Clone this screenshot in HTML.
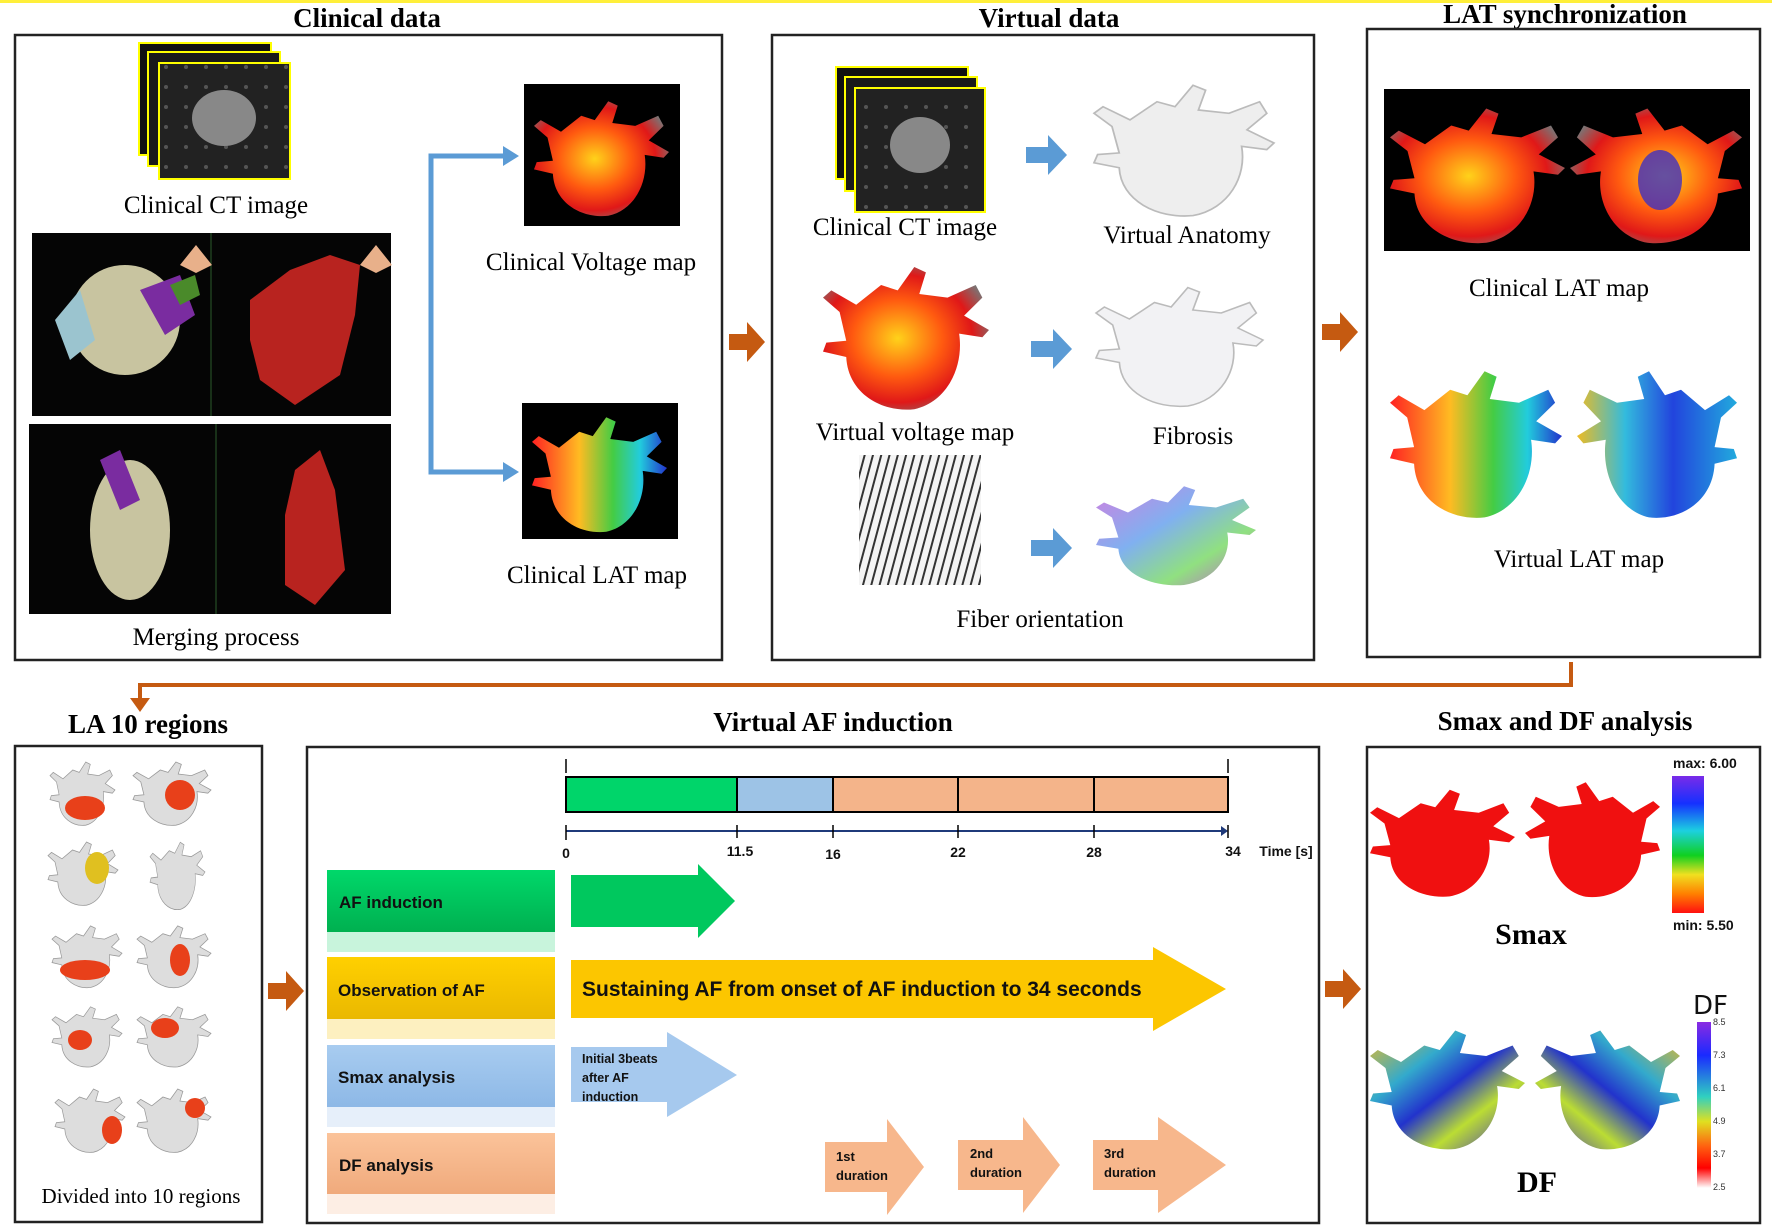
<!DOCTYPE html>
<html><head><meta charset="utf-8"><style>
html,body{margin:0;padding:0;background:#fff}
svg{display:block}
.t{font-family:"Liberation Serif",serif;font-weight:bold;font-size:27px;text-anchor:middle;fill:#000}
.l{font-family:"Liberation Serif",serif;font-size:25px;text-anchor:middle;fill:#000}
.s{font-family:"Liberation Sans",sans-serif;font-weight:bold;fill:#111}
</style></head><body>
<svg width="1772" height="1231" viewBox="0 0 1772 1231" xmlns="http://www.w3.org/2000/svg">
<defs>
<path id="h" d="M10,30 L0,22 L5,18 L20,26 L35,15 L45,18 L55,5 L62,8 L58,20 L75,22 L92,15 L96,22 L85,32 L100,40 L96,44 L82,42 C85,60 75,80 55,84 C35,86 15,75 14,55 L0,52 L2,47 L14,46 Z"/>
<radialGradient id="volt" cx="45%" cy="50%" r="60%"><stop offset="0" stop-color="#ffd21a"/><stop offset=".45" stop-color="#ff5a10"/><stop offset=".75" stop-color="#e01818"/><stop offset="1" stop-color="#777"/></radialGradient>
<linearGradient id="lat" x1="0" y1="0" x2="1" y2="0"><stop offset="0" stop-color="#f22"/><stop offset=".35" stop-color="#fb2"/><stop offset=".6" stop-color="#4c4"/><stop offset=".8" stop-color="#2cd"/><stop offset="1" stop-color="#23c"/></linearGradient>
<linearGradient id="lat2" x1="0" y1="0" x2="1" y2="0"><stop offset="0" stop-color="#2ad"/><stop offset=".4" stop-color="#24d"/><stop offset=".7" stop-color="#3bd"/><stop offset="1" stop-color="#eb2"/></linearGradient>
<linearGradient id="df" x1="0" y1="0" x2="1" y2="1"><stop offset="0" stop-color="#eb2"/><stop offset=".3" stop-color="#3ac"/><stop offset=".5" stop-color="#23c"/><stop offset=".7" stop-color="#bd3"/><stop offset="1" stop-color="#32c"/></linearGradient>
<linearGradient id="rainbow" x1="0" y1="0" x2="0" y2="1"><stop offset="0" stop-color="#7a2be8"/><stop offset=".2" stop-color="#1530ff"/><stop offset=".4" stop-color="#1cd0e0"/><stop offset=".58" stop-color="#10d020"/><stop offset=".72" stop-color="#f0e020"/><stop offset=".86" stop-color="#ff8000"/><stop offset="1" stop-color="#ff1010"/></linearGradient>
<linearGradient id="rainbow2" x1="0" y1="0" x2="0" y2="1"><stop offset="0" stop-color="#8a2be2"/><stop offset=".2" stop-color="#1a2aff"/><stop offset=".45" stop-color="#30d0c0"/><stop offset=".6" stop-color="#e0e020"/><stop offset=".75" stop-color="#ff6010"/><stop offset=".88" stop-color="#ff0000"/><stop offset="1" stop-color="#fff"/></linearGradient>
<linearGradient id="fib" x1="0" y1="0" x2="1" y2="1"><stop offset="0" stop-color="#d080e0"/><stop offset=".4" stop-color="#80b0f0"/><stop offset=".7" stop-color="#90e080"/><stop offset="1" stop-color="#c060d0"/></linearGradient>
<linearGradient id="gb" x1="0" y1="0" x2="0" y2="1"><stop offset="0" stop-color="#00d86a"/><stop offset="1" stop-color="#00b050"/></linearGradient>
<linearGradient id="yb" x1="0" y1="0" x2="0" y2="1"><stop offset="0" stop-color="#ffd000"/><stop offset="1" stop-color="#eab800"/></linearGradient>
<linearGradient id="bb" x1="0" y1="0" x2="0" y2="1"><stop offset="0" stop-color="#a8ccf0"/><stop offset="1" stop-color="#8db8e6"/></linearGradient>
<linearGradient id="pb" x1="0" y1="0" x2="0" y2="1"><stop offset="0" stop-color="#fbc39a"/><stop offset="1" stop-color="#f0aa7c"/></linearGradient>
<pattern id="ct" width="20" height="20" patternUnits="userSpaceOnUse"><rect width="20" height="20" fill="#222"/><circle cx="6" cy="7" r="2" fill="#555"/></pattern>
<pattern id="str" width="8" height="8" patternUnits="userSpaceOnUse" patternTransform="rotate(15)"><rect width="8" height="8" fill="#f4f4f4"/><rect width="2" height="8" fill="#333"/></pattern>
</defs>
<rect width="1772" height="1231" fill="#fff"/>
<rect x="0" y="0" width="1772" height="3" fill="#ffef3a"/>

<!-- titles -->
<text class="t" x="367" y="27">Clinical data</text>
<text class="t" x="1049" y="27">Virtual data</text>
<text class="t" x="1565" y="23">LAT synchronization</text>
<text class="t" x="148" y="733">LA 10 regions</text>
<text class="t" x="833" y="731">Virtual AF induction</text>
<text class="t" x="1565" y="730">Smax and DF analysis</text>

<!-- boxes -->
<g fill="none" stroke="#222" stroke-width="2.5">
<rect x="15" y="35" width="707" height="625"/>
<rect x="772" y="35" width="542" height="625"/>
<rect x="1367" y="29" width="393" height="628"/>
<rect x="15" y="746" width="247" height="476"/>
<rect x="307" y="747" width="1012" height="476"/>
<rect x="1367" y="747" width="393" height="476"/>
</g>

<!-- orange arrows -->
<g fill="#c55a11">
<path d="M729,334 h18 v-12 l18,20 l-18,20 v-12 h-18 z"/>
<path d="M1322,324 h18 v-12 l18,20 l-18,20 v-12 h-18 z"/>
<path d="M268,983 h18 v-12 l18,20 l-18,20 v-12 h-18 z"/>
<path d="M1325,981 h18 v-12 l18,20 l-18,20 v-12 h-18 z"/>
</g>
<polyline points="1571,662 1571,685 140,685 140,700" fill="none" stroke="#c55a11" stroke-width="4"/>
<path d="M130,698 h20 l-10,14 z" fill="#c55a11"/>

<!-- CLINICAL -->
<g stroke="#ff0" stroke-width="2">
<rect x="139" y="43" width="132" height="112" fill="#111"/>
<rect x="148" y="52" width="132" height="114" fill="#1a1a1a"/>
<rect x="159" y="63" width="131" height="116" fill="url(#ct)"/>
</g>
<ellipse cx="224" cy="118" rx="32" ry="28" fill="#888"/>
<text class="l" x="216" y="213">Clinical CT image</text>
<rect x="32" y="233" width="359" height="183" fill="#050505"/>
<rect x="29" y="424" width="362" height="190" fill="#050505"/>
<line x1="211" y1="233" x2="211" y2="416" stroke="#2a5a2a"/>
<line x1="216" y1="424" x2="216" y2="614" stroke="#2a5a2a"/>
<ellipse cx="125" cy="320" rx="55" ry="55" fill="#c8c4a0"/>
<path d="M55,320 l25,-30 l15,50 l-25,20z" fill="#9bc4cf"/>
<path d="M140,290 l40,-15 l15,40 l-30,20z" fill="#7a2ca0"/>
<path d="M170,285 l25,-10 l5,20 l-20,10z" fill="#4a8a2a"/>
<path d="M250,300 l40,-30 l40,-15 l30,10 l-5,50 l-15,60 l-45,30 l-35,-25 l-10,-40z" fill="#b8231f"/>
<ellipse cx="130" cy="530" rx="40" ry="70" fill="#c8c4a0"/>
<path d="M100,460 l20,-10 l20,50 l-20,10z" fill="#7a2ca0"/>
<path d="M295,470 l25,-20 l15,40 l10,80 l-30,35 l-30,-20 l0,-70z" fill="#b8231f"/>
<path d="M180,265 l16,-20 l16,20 l-16,8z M360,265 l16,-20 l16,20 l-16,8z" fill="#e8b08a"/>
<text class="l" x="216" y="645">Merging process</text>
<!-- blue connector -->
<polyline points="508,156 431,156 431,472 508,472" fill="none" stroke="#5b9bd5" stroke-width="5"/>
<path d="M503,146 l16,10 l-16,10z M503,462 l16,10 l-16,10z" fill="#5b9bd5"/>
<rect x="524" y="84" width="156" height="142" fill="#000"/>
<use href="#h" transform="translate(534,94) scale(1.35,1.45)" fill="url(#volt)"/>
<text class="l" x="591" y="270">Clinical Voltage map</text>
<rect x="522" y="403" width="156" height="136" fill="#000"/>
<use href="#h" transform="translate(532,410) scale(1.35,1.45)" fill="url(#lat)"/>
<text class="l" x="597" y="583">Clinical LAT map</text>

<!-- VIRTUAL -->
<g stroke="#ff0" stroke-width="2">
<rect x="836" y="67" width="132" height="112" fill="#111"/>
<rect x="845" y="77" width="132" height="114" fill="#1a1a1a"/>
<rect x="855" y="88" width="130" height="124" fill="url(#ct)"/>
</g>
<ellipse cx="920" cy="145" rx="30" ry="28" fill="#888"/>
<text class="l" x="905" y="235">Clinical CT image</text>
<g fill="#5b9bd5">
<path d="M1026,147 h22 v-12 l19,20 l-19,20 v-12 h-22z"/>
<path d="M1031,341 h22 v-12 l19,20 l-19,20 v-12 h-22z"/>
<path d="M1031,540 h22 v-12 l19,20 l-19,20 v-12 h-22z"/>
</g>
<use href="#h" transform="translate(1094,77) scale(1.8,1.65)" fill="#eee" stroke="#bbb"/>
<text class="l" x="1187" y="243">Virtual Anatomy</text>
<use href="#h" transform="translate(823,258) scale(1.66,1.8)" fill="url(#volt)"/>
<text class="l" x="915" y="440">Virtual voltage map</text>
<use href="#h" transform="translate(1096,280) scale(1.67,1.5)" fill="#f2f2f4" stroke="#bbb"/>
<text class="l" x="1193" y="444">Fibrosis</text>
<rect x="859" y="455" width="122" height="130" fill="url(#str)"/>
<use href="#h" transform="translate(1096,480) scale(1.6,1.25)" fill="url(#fib)"/>
<text class="l" x="1040" y="627">Fiber orientation</text>

<!-- LAT sync -->
<rect x="1384" y="89" width="366" height="162" fill="#000"/>
<use href="#h" transform="translate(1390,100) scale(1.75,1.7)" fill="url(#volt)"/>
<use href="#h" transform="translate(1742,100) scale(-1.72,1.7)" fill="url(#volt)"/>
<ellipse cx="1660" cy="180" rx="22" ry="30" fill="#4030c0" opacity=".8"/>
<text class="l" x="1559" y="296">Clinical LAT map</text>
<use href="#h" transform="translate(1390,362) scale(1.72,1.85)" fill="url(#lat)"/>
<use href="#h" transform="translate(1737,362) scale(-1.6,1.85)" fill="url(#lat2)"/>
<text class="l" x="1579" y="567">Virtual LAT map</text>

<!-- LA 10 regions -->
<g fill="#ddd" stroke="#999">
<use href="#h" transform="translate(50,758) scale(.65,.8)"/>
<use href="#h" transform="translate(133,758) scale(.78,.8)"/>
<use href="#h" transform="translate(48,838) scale(.7,.8)"/>
<use href="#h" transform="translate(150,838) scale(.55,.85)"/>
<use href="#h" transform="translate(52,922) scale(.7,.78)"/>
<use href="#h" transform="translate(137,922) scale(.74,.78)"/>
<use href="#h" transform="translate(52,1003) scale(.7,.76)"/>
<use href="#h" transform="translate(137,1003) scale(.74,.76)"/>
<use href="#h" transform="translate(55,1085) scale(.7,.8)"/>
<use href="#h" transform="translate(137,1085) scale(.74,.8)"/>
</g>
<g fill="#e8401a">
<ellipse cx="85" cy="808" rx="20" ry="12"/><ellipse cx="180" cy="795" rx="15" ry="15"/>
<ellipse cx="97" cy="868" rx="12" ry="16" fill="#e0c020"/>
<ellipse cx="85" cy="970" rx="25" ry="10"/><ellipse cx="180" cy="960" rx="10" ry="16"/>
<ellipse cx="80" cy="1040" rx="12" ry="10"/><ellipse cx="165" cy="1028" rx="14" ry="10"/>
<ellipse cx="112" cy="1130" rx="10" ry="14"/><ellipse cx="195" cy="1108" rx="10" ry="10"/>
</g>
<text class="l" x="141" y="1203" style="font-size:21px">Divided into 10 regions</text>

<!-- AF timeline -->
<line x1="566" y1="759" x2="566" y2="773" stroke="#000" stroke-width="1.5"/>
<line x1="1228" y1="759" x2="1228" y2="773" stroke="#000" stroke-width="1.5"/>
<rect x="566" y="777" width="171" height="35" fill="#00d56a"/>
<rect x="737" y="777" width="96" height="35" fill="#9dc3e6"/>
<rect x="833" y="777" width="395" height="35" fill="#f4b48a"/>
<g stroke="#000" stroke-width="2" fill="none">
<rect x="566" y="777" width="662" height="35"/>
<line x1="737" y1="777" x2="737" y2="812"/><line x1="833" y1="777" x2="833" y2="812"/>
<line x1="958" y1="777" x2="958" y2="812"/><line x1="1094" y1="777" x2="1094" y2="812"/>
</g>
<line x1="566" y1="831" x2="1225" y2="831" stroke="#1f3a7a" stroke-width="2"/>
<path d="M1228,831 l-7,-5 v10z" fill="#1f3a7a"/>
<g stroke="#000" stroke-width="1.5">
<line x1="566" y1="825" x2="566" y2="840"/><line x1="737" y1="825" x2="737" y2="838"/><line x1="833" y1="825" x2="833" y2="838"/><line x1="958" y1="825" x2="958" y2="838"/><line x1="1094" y1="825" x2="1094" y2="838"/><line x1="1228" y1="825" x2="1228" y2="838"/>
</g>
<g class="s" font-size="14" text-anchor="middle">
<text x="566" y="858">0</text><text x="740" y="856">11.5</text><text x="833" y="859">16</text><text x="958" y="857">22</text><text x="1094" y="857">28</text><text x="1233" y="856">34</text><text x="1286" y="856">Time [s]</text>
</g>
<!-- row labels -->
<rect x="327" y="870" width="228" height="62" fill="url(#gb)"/>
<rect x="327" y="932" width="228" height="20" fill="#c8f4dc"/>
<rect x="327" y="957" width="228" height="62" fill="url(#yb)"/>
<rect x="327" y="1019" width="228" height="20" fill="#fdf0c0"/>
<rect x="327" y="1045" width="228" height="62" fill="url(#bb)"/>
<rect x="327" y="1107" width="228" height="20" fill="#e6effa"/>
<rect x="327" y="1133" width="228" height="61" fill="url(#pb)"/>
<rect x="327" y="1194" width="228" height="20" fill="#fdeee4"/>
<g class="s" font-size="17">
<text x="339" y="908">AF induction</text>
<text x="338" y="996">Observation of AF</text>
<text x="338" y="1083">Smax analysis</text>
<text x="339" y="1171">DF analysis</text>
</g>
<!-- arrows -->
<path d="M571,875 H698 V864 L735,901 L698,938 V927 H571Z" fill="#00c85e"/>
<path d="M571,960 H1153 V947 L1226,989 L1153,1031 V1018 H571Z" fill="#fcc600"/>
<text class="s" x="582" y="996" font-size="21">Sustaining AF from onset of AF induction to 34 seconds</text>
<path d="M571,1047 H667 V1032 L737,1075 L667,1117 V1102 H571Z" fill="#a6c9ee"/>
<g class="s" font-size="12.5"><text x="582" y="1063">Initial 3beats</text><text x="582" y="1082">after AF</text><text x="582" y="1101">induction</text></g>
<g fill="#f7b78c">
<path d="M825,1142 H887 V1119 L924,1167 L887,1215 V1192 H825Z"/>
<path d="M958,1140 H1023 V1117 L1060,1165 L1023,1213 V1190 H958Z"/>
<path d="M1093,1140 H1158 V1117 L1226,1165 L1158,1213 V1190 H1093Z"/>
</g>
<g class="s" font-size="13">
<text x="836" y="1161">1st</text><text x="836" y="1180">duration</text>
<text x="970" y="1158">2nd</text><text x="970" y="1177">duration</text>
<text x="1104" y="1158">3rd</text><text x="1104" y="1177">duration</text>
</g>

<!-- Smax/DF -->
<use href="#h" transform="translate(1370,783) scale(1.45,1.35)" fill="#f01010"/>
<use href="#h" transform="translate(1660,775) scale(-1.35,1.45)" fill="#f01010"/>
<rect x="1672" y="776" width="32" height="137" fill="url(#rainbow)"/>
<text class="s" x="1673" y="768" font-size="14">max: 6.00</text>
<text class="s" x="1673" y="930" font-size="14">min: 5.50</text>
<text class="t" x="1531" y="944" style="font-size:30px">Smax</text>
<use href="#h" transform="translate(1370,1023) scale(1.55,1.5)" fill="url(#df)"/>
<use href="#h" transform="translate(1680,1023) scale(-1.45,1.5)" fill="url(#df)"/>
<rect x="1697" y="1022" width="14" height="166" fill="url(#rainbow2)"/>
<text x="1693" y="1014" font-family="DejaVu Sans,sans-serif" font-size="26" fill="#111">DF</text>
<g font-family="Liberation Sans,sans-serif" font-size="9" fill="#333">
<text x="1713" y="1025">8.5</text><text x="1713" y="1058">7.3</text><text x="1713" y="1091">6.1</text><text x="1713" y="1124">4.9</text><text x="1713" y="1157">3.7</text><text x="1713" y="1190">2.5</text>
</g>
<text class="t" x="1537" y="1192" style="font-size:30px">DF</text>
</svg>
</body></html>
